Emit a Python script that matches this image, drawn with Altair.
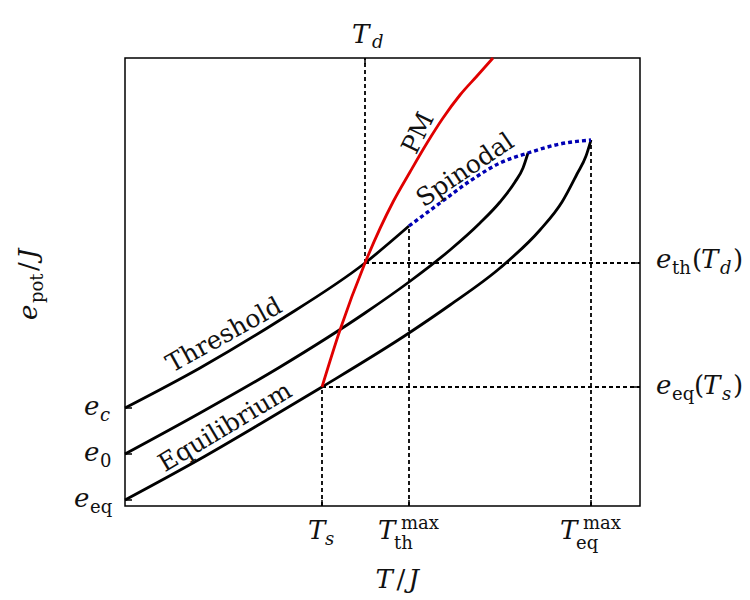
import altair as alt
import pandas as pd

# Plot area in data units (schematic, arbitrary units)
W, H = 515, 448

# Characteristic values
T_s, T_d, T_th_max, T_eq_max = 197, 240, 284, 466
e_c, e_0, e_eq = 98, 52, 6
e_th_Td, e_eq_Ts = 243, 119

# Curves
thr_x = [0, 75, 155, 240, 284]
thr_y = [98, 138, 186, 243, 280]

mid_x = [0, 75, 155, 240, 284, 325, 355, 375, 390, 398, 403]
mid_y = [52, 93, 139, 193, 224, 256, 283, 304, 324, 338, 353]

eq_x = [0, 75, 135, 197, 284, 325, 375, 415, 437, 452, 461, 466]
eq_y = [6, 47, 82, 119, 173, 201, 238, 276, 304, 332, 350, 366]

pm_x = [197, 215, 240, 268, 285, 302, 318, 335, 352, 368]
pm_y = [119, 176, 243, 304, 334, 363, 388, 411, 430, 448]

sp_x = [284, 315, 345, 375, 403, 435, 466]
sp_y = [280, 303, 325, 343, 353, 362, 366]

FONT = "DejaVu Serif"
MAIN, SUB = 26, 18
INK = "#111111"

xs = alt.Scale(domain=[0, W])
ys = alt.Scale(domain=[0, H])


def X(f="x"):
    return alt.X(f"{f}:Q", scale=xs, axis=None)


def Y(f="y"):
    return alt.Y(f"{f}:Q", scale=ys, axis=None)


def curve_df(name, xv, yv):
    return pd.DataFrame({"x": xv, "y": yv, "i": list(range(len(xv))), "s": name})


black = pd.concat([
    curve_df("threshold", thr_x, thr_y),
    curve_df("middle", mid_x, mid_y),
    curve_df("equilibrium", eq_x, eq_y),
])

black_lines = alt.Chart(black).mark_line(color="black", strokeWidth=2.8, interpolate="monotone").encode(
    x=X(), y=Y(), detail="s:N", order="i:Q")
pm_line = alt.Chart(curve_df("pm", pm_x, pm_y)).mark_line(
    color="#e00000", strokeWidth=2.8, interpolate="monotone").encode(x=X(), y=Y(), order="i:Q")
sp_line = alt.Chart(curve_df("sp", sp_x, sp_y)).mark_line(
    color="#0000b4", strokeWidth=3.4, strokeDash=[4, 3], interpolate="monotone").encode(
    x=X(), y=Y(), order="i:Q")

# Dashed guide lines
guides = pd.DataFrame({
    "x": [T_d, T_d, T_s, T_s, T_th_max, T_eq_max],
    "x2": [T_d, W, T_s, W, T_th_max, T_eq_max],
    "y": [e_th_Td, e_th_Td, 0, e_eq_Ts, 0, 0],
    "y2": [H, e_th_Td, e_eq_Ts, e_eq_Ts, thr_y[-1], eq_y[-1]],
})
guide_rules = alt.Chart(guides).mark_rule(color="black", strokeWidth=1.8, strokeDash=[4, 3]).encode(
    x=X(), x2="x2:Q", y=Y(), y2="y2:Q")

# Tick stubs
bt = alt.Chart(pd.DataFrame({"x": [T_s, T_th_max, T_eq_max]})).mark_rule(color="black", strokeWidth=1.5).encode(
    x=X(), y=alt.value(H), y2=alt.value(H - 6))
tt = alt.Chart(pd.DataFrame({"x": [T_d]})).mark_rule(color="black", strokeWidth=1.5).encode(
    x=X(), y=alt.value(0), y2=alt.value(6))
lt = alt.Chart(pd.DataFrame({"y": [e_c, e_0, e_eq]})).mark_rule(color="black", strokeWidth=1.5).encode(
    y=Y(), x=alt.value(0), x2=alt.value(7))
rt = alt.Chart(pd.DataFrame({"y": [e_th_Td, e_eq_Ts]})).mark_rule(color="black", strokeWidth=1.5).encode(
    y=Y(), x=alt.value(W - 7), x2=alt.value(W))

layers = [guide_rules, black_lines, pm_line, sp_line, bt, tt, lt, rt]

# In-plot rotated labels
curve_labels = [
    ("Threshold", 99, 171, 331),
    ("Equilibrium", 100, 79, 329),
    ("PM", 293, 373, 296),
    ("Spinodal", 340, 336, 326),
]
for txt, lx, ly, ang in curve_labels:
    layers.append(
        alt.Chart(pd.DataFrame({"x": [lx], "y": [ly], "t": [txt]})).mark_text(
            font=FONT, fontSize=25, color=INK, align="center", baseline="middle", angle=ang
        ).encode(x=X(), y=Y(), text="t:N")
    )

# Axis labels built from pieces: (text, anchor x, anchor y, dx, dy, size, italic, angle)
pieces = []
# bottom
pieces += [("T", T_s, 0, -14, 33, MAIN, True, 0), ("s", T_s, 0, 3, 39, SUB, True, 0)]
pieces += [("T", T_th_max, 0, -31, 33, MAIN, True, 0), ("th", T_th_max, 0, -15, 43, SUB, False, 0),
           ("max", T_th_max, 0, -8, 23, SUB, False, 0)]
pieces += [("T", T_eq_max, 0, -31, 33, MAIN, True, 0), ("eq", T_eq_max, 0, -15, 43, SUB, False, 0),
           ("max", T_eq_max, 0, -8, 23, SUB, False, 0)]
# top
pieces += [("T", T_d, H, -13, -15, MAIN, True, 0), ("d", T_d, H, 7, -10, SUB, True, 0)]
# left
pieces += [("e", 0, e_c, -41, 7, MAIN, True, 0), ("c", 0, e_c, -25, 13, SUB, True, 0)]
pieces += [("e", 0, e_0, -41, 7, MAIN, True, 0), ("0", 0, e_0, -25, 13, SUB, False, 0)]
pieces += [("e", 0, e_eq, -51, 7, MAIN, True, 0), ("eq", 0, e_eq, -35, 13, SUB, False, 0)]
# right
pieces += [("e", W, e_th_Td, 16, 5, MAIN, True, 0), ("th", W, e_th_Td, 32, 11, SUB, False, 0),
           ("(", W, e_th_Td, 52, 5, MAIN, False, 0), ("T", W, e_th_Td, 61, 5, MAIN, True, 0),
           ("d", W, e_th_Td, 80, 11, SUB, True, 0), (")", W, e_th_Td, 93, 5, MAIN, False, 0)]
pieces += [("e", W, e_eq_Ts, 16, 7, MAIN, True, 0), ("eq", W, e_eq_Ts, 32, 13, SUB, False, 0),
           ("(", W, e_eq_Ts, 54, 7, MAIN, False, 0), ("T", W, e_eq_Ts, 63, 7, MAIN, True, 0),
           ("s", W, e_eq_Ts, 82, 13, SUB, True, 0), (")", W, e_eq_Ts, 93, 7, MAIN, False, 0)]
# x title "T/J"
cx = W / 2
pieces += [("T", cx, 0, -7, 82, MAIN, True, 0), ("/", cx, 0, 14, 82, MAIN, False, 0),
           ("J", cx, 0, 26, 82, MAIN, True, 0)]
# y title "e_pot/J" (rotated)
ax_, ay_ = -88, 186
pieces += [("e", ax_, ay_, 0, 0, MAIN, True, 270), ("pot", ax_, ay_, 17, 6, SUB, False, 270),
           ("/", ax_, ay_, 49, 0, MAIN, False, 270), ("J", ax_, ay_, 61, 0, MAIN, True, 270)]

for txt, px, py, dx, dy, size, ital, ang in pieces:
    mk = dict(font=FONT, fontSize=size, color=INK, align="left", baseline="alphabetic",
              dx=dx, dy=dy, fontStyle="italic" if ital else "normal")
    if ang:
        mk["angle"] = ang
    layers.append(
        alt.Chart(pd.DataFrame({"x": [px], "y": [py], "t": [txt]})).mark_text(**mk).encode(
            x=X(), y=Y(), text="t:N")
    )

chart = alt.layer(*layers).properties(
    width=W, height=H, autosize="none",
    padding={"left": 125, "top": 58, "right": 110, "bottom": 94},
).configure_view(stroke="black", strokeWidth=1.5)

chart.save("out.html", embed_options={"renderer": "svg", "actions": False})
